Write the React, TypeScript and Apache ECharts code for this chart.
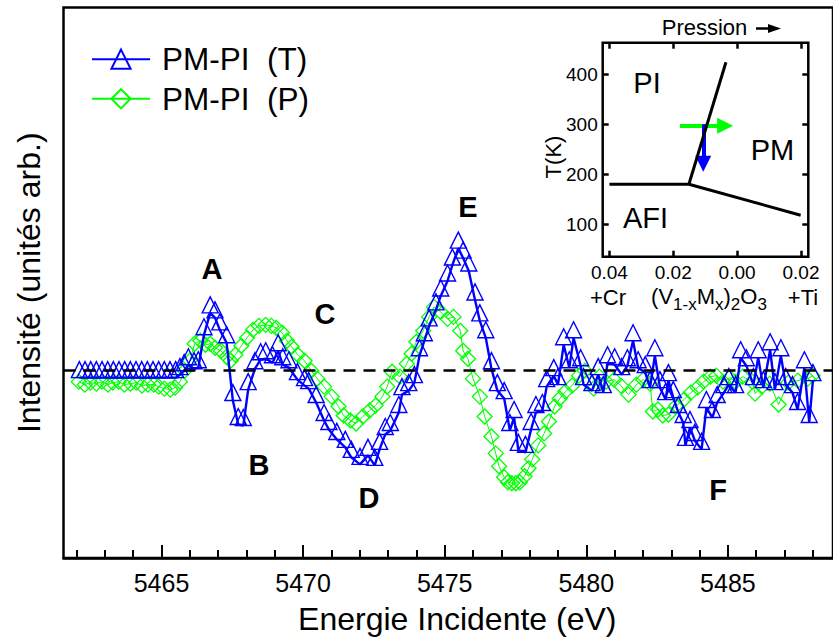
import React, { useEffect, useRef } from 'react';
import * as echarts from 'echarts';

// ---- Main spectrum data (energy in eV, intensity in arbitrary units) ----
const tEnergy = [
  5462.1, 5462.3, 5462.5, 5462.7, 5462.9, 5463.1, 5463.3, 5463.5, 5463.7, 5463.9,
  5464.1, 5464.3, 5464.5, 5464.7, 5464.9, 5465.1, 5465.3, 5465.5,
  5465.65, 5465.8, 5465.95, 5466.15, 5466.3, 5466.5, 5466.72, 5466.89, 5467.06, 5467.3,
  5467.52, 5467.71, 5467.89, 5468.06, 5468.3, 5468.5, 5468.68, 5468.92, 5469.12, 5469.28,
  5469.5, 5469.8, 5470.05, 5470.2, 5470.46, 5470.74, 5470.91, 5471.19, 5471.49, 5471.7,
  5472.01, 5472.29, 5472.53, 5472.7, 5472.9, 5473.08, 5473.38, 5473.49, 5473.73, 5473.93,
  5474.11, 5474.28, 5474.45, 5474.69, 5474.86, 5475.1, 5475.27, 5475.48, 5475.65, 5475.85,
  5476.07, 5476.24, 5476.45, 5476.65, 5476.86, 5477.1, 5477.3, 5477.45, 5477.6, 5477.85,
  5478.05, 5478.22, 5478.45, 5478.6, 5478.85, 5479.0, 5479.2, 5479.4, 5479.55, 5479.8,
  5479.9, 5480.2, 5480.42, 5480.6, 5480.75, 5481.0, 5481.25, 5481.45, 5481.65, 5481.83,
  5482.08, 5482.25, 5482.42, 5482.6, 5482.8, 5482.9, 5483.07, 5483.25, 5483.42, 5483.5,
  5483.66, 5483.83, 5484.07, 5484.24, 5484.45, 5484.62, 5484.86, 5485.03, 5485.27, 5485.45,
  5485.65, 5485.9, 5486.07, 5486.25, 5486.49, 5486.66, 5486.87, 5487.04, 5487.28, 5487.46,
  5487.7, 5487.87, 5488.0,
];
const tIntensity = [
  -0.7, -0.7, -0.7, -0.7, -0.7, -0.7, -0.7, -0.7, -0.7, -0.7,
  -0.7, -0.7, -0.7, -0.7, -0.7, -0.7, -0.7, -0.7,
  -0.4, 0.0, 0.6, 0.2, 0.3, 3.6, 5.8, 5.3, 4.1, 2.8,
  -3.0, -5.4, -5.5, -1.9, 0.2, 1.1, 1.2, 0.8, 2.0, 0.6,
  0.3, -0.9, -1.5, -1.8, -3.2, -5.0, -5.9, -6.9, -7.7, -8.7,
  -9.4, -8.5, -9.5, -7.9, -6.4, -6.0, -4.2, -2.4, -2.0, -1.2,
  1.5, 3.0, 4.5, 6.1, 7.5, 9.0, 10.6, 12.3, 11.3, 10.0,
  7.1, 5.0, 3.3, 0.2, -2.0, -2.8, -6.0, -4.7, -8.0, -8.2,
  -5.9, -4.2, -4.0, -1.6, -0.5, -1.4, 2.6, 0.3, 3.3, 0.5,
  -1.4, -2.0, -0.4, -2.2, 0.8, 0.6, -0.4, 0.5, 3.0, 0.3,
  -0.2, -1.7, 1.5, -1.7, -2.9, -1.0, -2.7, -4.2, -5.2, -7.5,
  -5.7, -7.0, -7.9, -3.7, -4.7, -3.2, -2.2, -1.4, -2.2, 1.3,
  0.5, -1.4, 1.3, -1.7, 2.1, -1.9, 1.5, -1.4, -2.2, -3.9,
  0.3, -5.2, -1.0,
];
const pEnergy = [
  5462.08, 5462.29, 5462.49, 5462.7, 5462.9, 5463.11, 5463.28, 5463.49, 5463.69, 5463.9,
  5464.11, 5464.31, 5464.52, 5464.73, 5464.9, 5465.1, 5465.31, 5465.48, 5465.65, 5465.82,
  5466.0, 5466.17, 5466.37, 5466.55, 5466.72, 5466.89, 5467.1, 5467.3, 5467.44, 5467.61,
  5467.82, 5468.02, 5468.23, 5468.44, 5468.68, 5468.88, 5469.05, 5469.26, 5469.43, 5469.6,
  5469.81, 5470.05, 5470.29, 5470.5, 5470.74, 5471.01, 5471.25, 5471.43, 5471.67, 5471.87,
  5472.11, 5472.35, 5472.56, 5472.8, 5472.97, 5473.14, 5473.42, 5473.66, 5473.83, 5474.0,
  5474.24, 5474.45, 5474.62, 5474.86, 5475.1, 5475.31, 5475.55, 5475.65, 5475.82, 5476.0,
  5476.24, 5476.41, 5476.65, 5476.8, 5476.92, 5477.1, 5477.23, 5477.37, 5477.51, 5477.65,
  5477.82, 5477.96, 5478.09, 5478.3, 5478.51, 5478.68, 5478.88, 5479.06, 5479.26, 5479.5,
  5479.74, 5479.95, 5480.26, 5480.46, 5480.7, 5480.98, 5481.22, 5481.49, 5481.77, 5482.01,
  5482.25, 5482.35, 5482.53, 5482.7, 5482.9, 5483.18, 5483.45, 5483.69, 5483.93, 5484.14,
  5484.38, 5484.59, 5484.83, 5485.07, 5485.27, 5485.52, 5485.86, 5485.96, 5486.2, 5486.48,
  5486.79, 5487.13, 5487.47, 5487.82, 5487.99,
];
const pIntensity = [
  -1.1, -1.4, -1.2, -1.3, -1.1, -1.4, -1.2, -1.1, -1.4, -1.3,
  -1.2, -1.5, -1.4, -1.4, -1.6, -1.8, -1.9, -1.7, -1.1, 0.0,
  1.0, 2.7, 3.0, 2.6, 2.7, 2.3, 2.0, 1.4, 1.0, 1.6,
  2.5, 3.3, 4.1, 4.5, 4.6, 4.5, 4.3, 3.8, 3.0, 2.4,
  1.6, 1.0, 0.0, -0.8, -1.6, -2.6, -3.6, -4.5, -5.0, -5.3,
  -4.6, -4.0, -3.5, -2.6, -1.6, -0.1, -0.6, 0.7, 1.7, 2.9,
  4.0, 5.4, 6.4, 5.9, 5.2, 5.4, 4.0, 2.0, 1.2, -0.8,
  -2.6, -4.6, -6.6, -8.3, -9.6, -10.7, -11.2, -11.3, -11.3, -11.2,
  -10.6, -9.8, -8.9, -7.5, -6.3, -5.1, -3.6, -2.8, -2.1, -1.5,
  -0.5, 0.0, -1.8, -0.6, -1.1, -0.9, -1.5, -2.4, -1.4, -0.9,
  -1.3, -4.1, -3.9, -4.5, -4.4, -3.5, -2.9, -2.2, -1.7, -1.1,
  -0.6, -0.5, -1.1, -0.7, -1.1, -0.6, -1.1, -2.3, -1.6, -1.3,
  -3.4, -1.2, -1.0, -0.8, -0.5,
];
const majorTicks = [5465, 5470, 5475, 5480, 5485];
const minorTicks = [5462, 5463, 5464, 5466, 5467, 5468, 5469, 5471, 5472, 5473, 5474, 5476, 5477, 5478, 5479, 5481, 5482, 5483, 5484, 5486, 5487, 5488];
const peakLabels = ['A', 'B', 'C', 'D', 'E', 'F'];
const seriesNames = ['PM-PI  (T)', 'PM-PI  (P)'];

// ---- Inset phase diagram (x = doping, T in K) ----
const insetXTicks = [0.04, 0.02, 0, -0.02];
const insetYTicks = [100, 200, 300, 400];
const lineAfiPi = [[0.04, 180], [0.0151, 180]];
const linePiPm = [[0.0151, 180], [0.0035, 424]];
const lineAfiPm = [[0.0151, 180], [-0.0199, 118]];
const pressureArrow = [[0.0179, 297], [0.00375, 297]];
const temperatureArrow = [[0.0106, 300], [0.0106, 221]];

const FONT = 'Liberation Sans, Arial, Helvetica, sans-serif';

export default function App() {
  const ref = useRef<HTMLDivElement>(null);
  useEffect(() => {
    if (!ref.current) return;
    const chart = echarts.init(ref.current, undefined, { renderer: 'svg' });
    const tData = tEnergy.map((e, i) => [e, tIntensity[i]]);
    const pData = pEnergy.map((e, i) => [e, pIntensity[i]]);
    const txt = (text: string, x: number, y: number, size: number, bold = false, rotation = 0) => ({
      type: 'text', x, y, rotation, silent: true,
      style: { text, fontSize: size, fontFamily: FONT, fontWeight: bold ? 'bold' : 'normal', fill: '#000', align: 'center', verticalAlign: 'middle' },
    });
    const peakPos = [[212, 269], [259, 465], [325, 314], [369, 498], [468, 207], [718, 490]];
    const blackLine = (d: number[][]) => ({
      type: 'line', xAxisIndex: 2, yAxisIndex: 1, data: d, symbol: 'none', silent: true,
      lineStyle: { color: '#000', width: 3 }, z: 5,
    });
    const arrow = (d: number[][], color: string, z: number) => ({
      type: 'line', xAxisIndex: 2, yAxisIndex: 1, data: [], silent: true, z,
      markLine: {
        silent: true, symbol: ['none', 'triangle'], symbolSize: [16, 16], animation: false,
        label: { show: false },
        lineStyle: { color, width: 4, type: 'solid' },
        itemStyle: { color },
        emphasis: { disabled: true },
        data: [[{ coord: d[0] }, { coord: d[1] }]],
      },
    });
    const noLine = { show: false, onZero: false };
    const option: any = {
      animation: false,
      backgroundColor: '#fff',
      textStyle: { fontFamily: FONT },
      grid: [
        { left: 63.5, top: 7.5, right: -18, bottom: 80, show: true, borderColor: '#000', borderWidth: 2.5, backgroundColor: 'transparent' },
        { left: 602.7, top: 42.7, width: 205.6, height: 214, show: true, borderColor: '#000', borderWidth: 2.5, backgroundColor: 'transparent' },
      ],
      legend: {
        data: seriesNames,
        orient: 'vertical', left: 91, top: 43.2, padding: 0,
        itemWidth: 58, itemHeight: 24, itemGap: 7.6,
        textStyle: { fontSize: 31.5, fontFamily: FONT, color: '#000', lineHeight: 31, padding: [0, 0, 0, 7] },
        selectedMode: false,
      },
      xAxis: [
        {
          gridIndex: 0, type: 'value', min: 5461.54, max: 5488.71, position: 'bottom',
          name: 'Energie Incidente (eV)', nameLocation: 'middle', nameGap: 45,
          nameTextStyle: { fontSize: 32, color: '#000', fontFamily: FONT, padding: [0, 0, 0, 18] },
          axisLine: { show: true, onZero: false, lineStyle: { color: '#000', width: 2.5 } },
          axisTick: { show: true, inside: true, length: 13, customValues: majorTicks, lineStyle: { color: '#000', width: 2 } },
          axisLabel: { customValues: majorTicks, fontSize: 25, color: '#000', margin: 12, fontFamily: FONT, formatter: (v: number) => String(v) },
          splitLine: { show: false },
        },
        {
          gridIndex: 0, type: 'value', min: 5461.54, max: 5488.71, position: 'bottom',
          axisLine: noLine,
          axisTick: { show: true, inside: true, length: 8, customValues: minorTicks, lineStyle: { color: '#000', width: 2 } },
          axisLabel: { show: false },
          splitLine: { show: false },
        },
        {
          gridIndex: 1, type: 'value', min: -0.0223, max: 0.0421, inverse: true, position: 'bottom',
          axisLine: noLine,
          axisTick: { show: true, inside: true, length: 6, customValues: insetXTicks, lineStyle: { color: '#000', width: 2.5 } },
          axisLabel: {
            customValues: insetXTicks, fontSize: 19, color: '#000', margin: 6, fontFamily: FONT,
            formatter: (v: number) => Math.abs(v).toFixed(2),
          },
          splitLine: { show: false },
        },
        {
          gridIndex: 1, type: 'value', min: -0.0223, max: 0.0421, inverse: true, position: 'top',
          axisLine: noLine,
          axisTick: { show: true, inside: true, length: 6, customValues: insetXTicks, lineStyle: { color: '#000', width: 2.5 } },
          axisLabel: { show: false },
          splitLine: { show: false },
        },
      ],
      yAxis: [
        {
          gridIndex: 0, type: 'value', min: -18.8, max: 36.45,
          name: 'Intensité (unités arb.)', nameLocation: 'middle', nameGap: 19,
          nameTextStyle: { fontSize: 32, color: '#000', fontFamily: FONT },
          axisLine: noLine, axisTick: { show: false }, axisLabel: { show: false }, splitLine: { show: false },
        },
        {
          gridIndex: 1, type: 'value', min: 35, max: 463, position: 'left',
          axisLine: noLine,
          axisTick: { show: true, inside: true, length: 6, customValues: insetYTicks, lineStyle: { color: '#000', width: 2.5 } },
          axisLabel: { customValues: insetYTicks, fontSize: 19, color: '#000', margin: 5, fontFamily: FONT },
          splitLine: { show: false },
        },
        {
          gridIndex: 1, type: 'value', min: 35, max: 463, position: 'right',
          axisLine: noLine,
          axisTick: { show: true, inside: true, length: 6, customValues: insetYTicks, lineStyle: { color: '#000', width: 2.5 } },
          axisLabel: { show: false },
          splitLine: { show: false },
        },
      ],
      series: [
        {
          name: seriesNames[1], type: 'line', xAxisIndex: 0, yAxisIndex: 0, data: pData,
          symbol: 'diamond', symbolSize: [15, 15], showAllSymbol: true,
          itemStyle: { color: 'transparent', borderColor: '#00ff00', borderWidth: 1.3 },
          lineStyle: { color: '#00ff00', width: 1 },
          emphasis: { disabled: true }, z: 2,
          markLine: {
            silent: true, symbol: 'none', label: { show: false },
            lineStyle: { color: '#000', type: [12, 8], width: 2.5 },
            data: [{ yAxis: 0 }],
          },
        },
        {
          name: seriesNames[0], type: 'line', xAxisIndex: 0, yAxisIndex: 0, data: tData,
          symbol: 'triangle', symbolSize: [16, 16], symbolOffset: [0, '-50%'], showAllSymbol: true,
          itemStyle: { color: 'transparent', borderColor: '#0000ff', borderWidth: 1.4 },
          lineStyle: { color: '#0000ff', width: 2.4 },
          emphasis: { disabled: true }, z: 3,
        },
        blackLine(lineAfiPi),
        blackLine(linePiPm),
        blackLine(lineAfiPm),
        arrow(pressureArrow, '#00ff00', 6),
        arrow(temperatureArrow, '#0000ff', 7),
      ],
      graphic: [
        ...peakLabels.map((l, i) => txt(l, peakPos[i][0], peakPos[i][1], 29, true)),
        txt('PI', 647, 83, 29),
        txt('PM', 772.5, 150, 29),
        txt('AFI', 645.5, 217.5, 29),
        txt('Pression', 704.5, 27.5, 22),
        { type: 'line', silent: true, shape: { x1: 756, y1: 28.5, x2: 771, y2: 28.5 }, style: { stroke: '#000', lineWidth: 2.5 } },
        { type: 'polygon', silent: true, shape: { points: [[768, 24], [781, 28.5], [768, 33]] }, style: { fill: '#000' } },
        txt('T(K)', 553, 157, 22, false, Math.PI / 2),
        txt('+Cr', 608, 297, 22),
        txt('+Ti', 803, 297, 22),
        {
          type: 'text', x: 709, y: 296, silent: true,
          style: {
            text: '{n|(V}{s|1-x}{n|M}{s|x}{n|)}{s|2}{n|O}{s|3}',
            align: 'center', verticalAlign: 'middle', fill: '#000', fontFamily: FONT,
            rich: {
              n: { fontSize: 22, lineHeight: 34, fontFamily: FONT, fill: '#000', verticalAlign: 'middle' },
              s: { fontSize: 17, lineHeight: 17, fontFamily: FONT, fill: '#000', verticalAlign: 'bottom' },
            },
          },
        },
      ],
    };
    chart.setOption(option);
    return () => chart.dispose();
  }, []);
  return <div ref={ref} style={{ position: 'fixed', left: 0, top: 0, width: 833, height: 640, background: '#fff' }} />;
}
